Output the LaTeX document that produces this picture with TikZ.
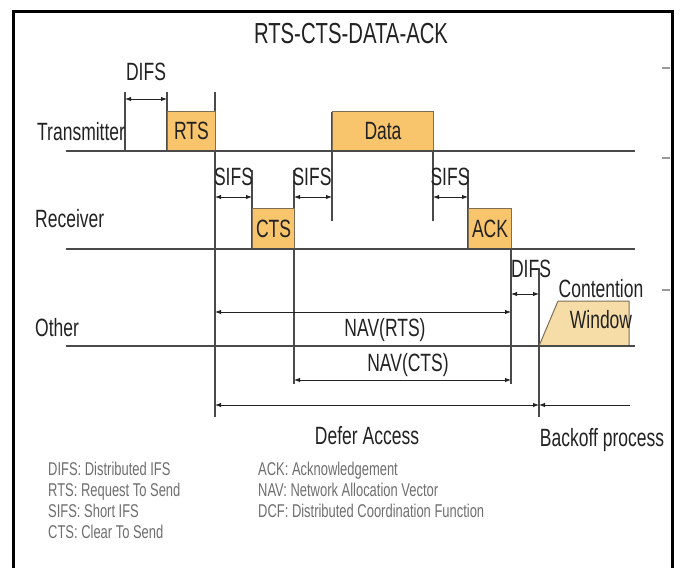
\documentclass[tikz,border=0pt]{standalone}
\usepackage{fontspec}
\setmainfont{Liberation Sans}[FakeStretch=0.70]
\usetikzlibrary{arrows.meta}

\definecolor{ink}{HTML}{222222}
\definecolor{linegray}{HTML}{4A4A4A}
\definecolor{pktfill}{HTML}{F8C46C}
\definecolor{pktline}{HTML}{7D6E55}
\definecolor{cwfill}{HTML}{F6DDA8}
\definecolor{legendgray}{HTML}{6E6E6E}
\definecolor{tickgray}{HTML}{9A9A9A}

\tikzset{
  lbl/.style={font=\fontsize{25}{27}\selectfont, text=ink, inner sep=0pt},
  pkt/.style={draw=pktline, fill=pktfill, line width=1pt, inner sep=0pt, anchor=south west, lbl},
  legend/.style={font=\fontsize{18.5}{20}\selectfont, text=legendgray, inner sep=0pt, anchor=base west},
  timeline/.style={draw=linegray, line width=1.4pt},
  edgeline/.style={draw=linegray, line width=1.1pt},
  span/.style={draw=ink, line width=1pt, {Latex[length=6pt,width=4.5pt]}-{Latex[length=6pt,width=4.5pt]}},
}

\begin{document}
\begin{tikzpicture}[x=1pt,y=-1pt]
  \useasboundingbox (0,0) rectangle (681,568);
  \draw[line width=3pt] (13.5,568) -- (13.5,11) -- (672,11) -- (672,568);
  \foreach \y in {68,158,290}
    \draw[tickgray, line width=2pt] (662,\y) -- (670,\y);

  \node[lbl, font=\fontsize{29}{31}\selectfont, anchor=base] (title) at (351,43) {RTS-CTS-DATA-ACK};

  % slot boundaries
  \foreach \x/\a/\b in {125/92/151, 167/92/151, 215/92/417, 252/170/249, 294/170/384,
                        332/112/221, 433/112/221, 468/170/249, 511/209/384, 539/268/417}
    \draw[edgeline] (\x,\a) -- (\x,\b);

  % frames
  \node[pkt, minimum width=48, minimum height=39] (rts) at (167,151) {RTS};
  \node[pkt, minimum width=101, minimum height=39] (data) at (332,151) {Data};
  \node[pkt, minimum width=42, minimum height=40] (cts) at (252,249) {CTS};
  \node[pkt, minimum width=43, minimum height=40] (ack) at (468,249) {ACK};
  \draw[draw=pktline, fill=cwfill, line width=1pt] (539,346) -- (558,301) -- (629,301) -- (629,346) -- cycle;
  \node[lbl, anchor=base] (cont) at (601,297) {Contention};
  \node[lbl, anchor=base] (win) at (601,328) {Window};

  % stations
  \node[lbl, anchor=base west] (tx) at (37,140) {Transmitter};
  \node[lbl, anchor=base west] (rx) at (35,227) {Receiver};
  \node[lbl, anchor=base west] (ot) at (35,336) {Other};
  \draw[timeline] (66,151) -- (635,151);
  \draw[timeline] (66,249) -- (635,249);
  \draw[timeline] (66,346) -- (635,346);

  % spacings
  \coordinate (a1) at (125,99);  \coordinate (a2) at (167,99);
  \coordinate (s1) at (215,197); \coordinate (s2) at (252,197);
  \coordinate (s3) at (294,197); \coordinate (s4) at (332,197);
  \coordinate (s5) at (433,197); \coordinate (s6) at (468,197);
  \coordinate (b1) at (511,294); \coordinate (b2) at (539,294);
  \coordinate (n1) at (215,312); \coordinate (n2) at (511,312);
  \coordinate (n3) at (294,380); \coordinate (n4) at (511,380);
  \coordinate (f1) at (215,405); \coordinate (f2) at (539,405); \coordinate (f3) at (630,405);

  \draw[span] (a1) -- (a2);
  \draw[span] (s1) -- (s2);
  \draw[span] (s3) -- (s4);
  \draw[span] (s5) -- (s6);
  \draw[span] (b1) -- (b2);
  \draw[span] (n1) -- (n2);
  \draw[span] (n3) -- (n4);
  \draw[span] (f1) -- (f2);
  \draw[span, {Latex[length=6pt,width=4.5pt]}-] (f2) -- (f3);

  \node[lbl, anchor=base] (difs1) at (146,80) {DIFS};
  \node[lbl, anchor=base] (sifs1) at (233.5,185) {SIFS};
  \node[lbl, anchor=base] (sifs2) at (312,185) {SIFS};
  \node[lbl, anchor=base] (sifs3) at (450,185) {SIFS};
  \node[lbl, anchor=base] (difs2) at (531,277) {DIFS};
  \node[lbl, anchor=base] (navr) at (385,336) {NAV(RTS)};
  \node[lbl, anchor=base] (navc) at (408,371) {NAV(CTS)};
  \node[lbl, anchor=base] (defer) at (367,444) {Defer Access};
  \node[lbl, anchor=base] (back) at (602,446) {Backoff process};

  % abbreviations
  \node[legend] (l1) at (48,475) {DIFS: Distributed IFS};
  \node[legend] (l2) at (48,496) {RTS: Request To Send};
  \node[legend] (l3) at (48,517) {SIFS: Short IFS};
  \node[legend] (l4) at (48,538) {CTS: Clear To Send};
  \node[legend] (l5) at (258,475) {ACK: Acknowledgement};
  \node[legend] (l6) at (258,496) {NAV: Network Allocation Vector};
  \node[legend] (l7) at (258,517) {DCF: Distributed Coordination Function};
\end{tikzpicture}
\end{document}
